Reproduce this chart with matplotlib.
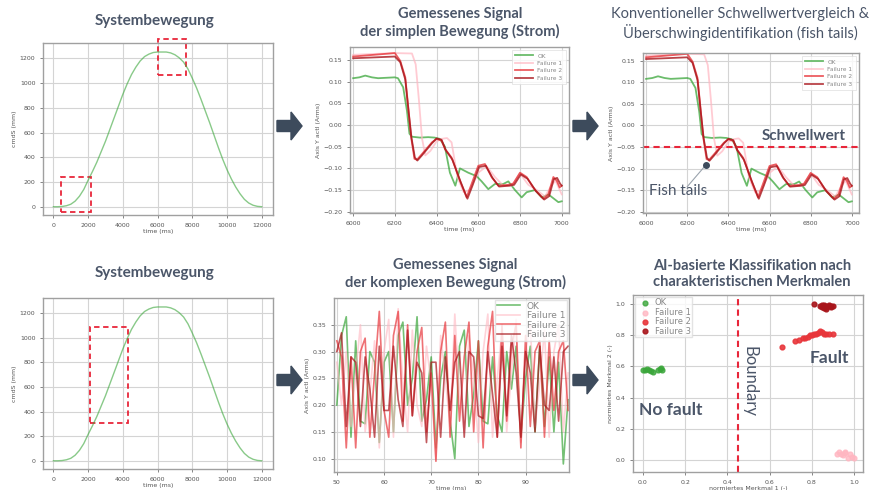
import matplotlib
matplotlib.use('Agg')
import matplotlib.pyplot as plt
from matplotlib.patches import FancyArrow, Rectangle

# --- data ---
# motion profile (position over time)
t_move = [0, 250, 500, 750, 1000, 1250, 1500, 1750, 2000, 2250, 2500, 2750, 3000, 3250, 3500,
          3750, 4000, 4250, 4500, 4750, 5000, 5250, 5500, 5750, 6000, 6250, 6500, 6750, 7000,
          7250, 7500, 7750, 8000, 8250, 8500, 8750, 9000, 9250, 9500, 9750, 10000, 10250,
          10500, 10750, 11000, 11250, 11500, 11750, 12000]
pos_move = [0, 0, 2, 8, 20, 45, 85, 140, 215, 285, 360, 445, 530, 625, 720,
            815, 910, 995, 1070, 1130, 1180, 1215, 1235, 1248, 1252, 1252, 1252, 1245, 1230,
            1205, 1170, 1115, 1040, 960, 870, 775, 680, 580, 480, 385, 300, 225,
            160, 105, 60, 30, 12, 3, 0]

# current signal of the simple motion
t_ok = [6000, 6030, 6058, 6090, 6120, 6160, 6200, 6215, 6240, 6258, 6270, 6282, 6320, 6360,
        6390, 6416, 6440, 6464, 6490, 6512, 6552, 6592, 6616, 6648, 6680, 6720, 6744, 6776,
        6808, 6832, 6872, 6904, 6936, 6968, 6984, 7000]
i_ok = [0.108, 0.110, 0.114, 0.110, 0.108, 0.109, 0.110, 0.108, 0.087, 0.033, -0.020, -0.027,
        -0.029, -0.028, -0.029, -0.032, -0.050, -0.110, -0.140, -0.100, -0.110, -0.118, -0.130,
        -0.148, -0.136, -0.136, -0.130, -0.150, -0.167, -0.155, -0.150, -0.167, -0.160, -0.172,
        -0.178, -0.176]

t_f1 = [6000, 6100, 6200, 6282, 6300, 6315, 6330, 6346, 6370, 6400, 6424, 6450, 6472, 6500,
        6530, 6560, 6600, 6640, 6680, 6720, 6760, 6800, 6840, 6880, 6920, 6950, 6970, 7000]
i_f1 = [0.162, 0.164, 0.166, 0.165, 0.140, 0.060, -0.030, -0.070, -0.060, -0.038, -0.032,
        -0.030, -0.040, -0.120, -0.155, -0.150, -0.110, -0.095, -0.120, -0.140, -0.140, -0.112,
        -0.138, -0.150, -0.165, -0.140, -0.128, -0.160]

t_f2 = [6000, 6100, 6200, 6226, 6250, 6266, 6278, 6294, 6306, 6330, 6378, 6400, 6424, 6440,
        6472, 6512, 6544, 6568, 6600, 6632, 6664, 6696, 6744, 6768, 6800, 6832, 6872, 6912,
        6936, 6960, 6976, 6990, 7000]
i_f2 = [0.158, 0.162, 0.166, 0.148, 0.110, 0.033, -0.028, -0.078, -0.080, -0.067, -0.040,
        -0.032, -0.036, -0.055, -0.075, -0.128, -0.167, -0.136, -0.094, -0.090, -0.120, -0.140,
        -0.138, -0.135, -0.110, -0.120, -0.150, -0.170, -0.160, -0.120, -0.128, -0.144, -0.140]

t_f3 = [6000, 6100, 6200, 6226, 6250, 6266, 6280, 6296, 6308, 6330, 6378, 6400, 6424, 6444,
        6476, 6516, 6548, 6572, 6604, 6636, 6668, 6700, 6748, 6772, 6804, 6836, 6876, 6916,
        6940, 6962, 6978, 6992, 7000]
i_f3 = [0.154, 0.156, 0.158, 0.145, 0.105, 0.030, -0.030, -0.075, -0.082, -0.070, -0.042,
        -0.031, -0.034, -0.058, -0.080, -0.132, -0.170, -0.140, -0.097, -0.094, -0.122, -0.142,
        -0.140, -0.138, -0.114, -0.124, -0.152, -0.172, -0.164, -0.125, -0.122, -0.135, -0.140]

threshold = -0.05

# current signal of the complex motion
t_cx = list(range(50, 100))
c_ok = [0.20, 0.33, 0.365, 0.14, 0.32, 0.17, 0.165, 0.30, 0.28, 0.13, 0.28, 0.30, 0.15, 0.33,
        0.355, 0.20, 0.25, 0.365, 0.17, 0.21, 0.29, 0.12, 0.25, 0.30, 0.17, 0.10, 0.31, 0.34,
        0.16, 0.22, 0.32, 0.17, 0.165, 0.29, 0.18, 0.15, 0.30, 0.23, 0.31, 0.14, 0.25, 0.31,
        0.15, 0.31, 0.16, 0.29, 0.15, 0.28, 0.09, 0.21]
c_f1 = [0.28, 0.20, 0.30, 0.16, 0.26, 0.35, 0.15, 0.22, 0.32, 0.12, 0.30, 0.36, 0.14, 0.38,
        0.24, 0.15, 0.34, 0.20, 0.16, 0.31, 0.24, 0.10, 0.33, 0.25, 0.16, 0.37, 0.22, 0.15,
        0.33, 0.25, 0.13, 0.30, 0.37, 0.14, 0.25, 0.34, 0.15, 0.26, 0.36, 0.13, 0.30, 0.35,
        0.16, 0.24, 0.34, 0.14, 0.30, 0.35, 0.15, 0.26]
c_f2 = [0.32, 0.29, 0.12, 0.29, 0.12, 0.30, 0.325, 0.14, 0.26, 0.375, 0.19, 0.14, 0.33, 0.375,
        0.17, 0.35, 0.18, 0.30, 0.345, 0.15, 0.26, 0.095, 0.30, 0.355, 0.14, 0.33, 0.17, 0.29,
        0.355, 0.15, 0.32, 0.12, 0.31, 0.375, 0.14, 0.35, 0.17, 0.31, 0.35, 0.12, 0.33, 0.16,
        0.30, 0.32, 0.14, 0.32, 0.19, 0.30, 0.32, 0.19]
c_f3 = [0.30, 0.335, 0.16, 0.29, 0.28, 0.16, 0.29, 0.23, 0.14, 0.31, 0.19, 0.19, 0.31, 0.21,
        0.16, 0.34, 0.18, 0.28, 0.26, 0.13, 0.28, 0.28, 0.14, 0.29, 0.19, 0.28, 0.30, 0.14,
        0.30, 0.29, 0.18, 0.175, 0.30, 0.22, 0.14, 0.31, 0.18, 0.33, 0.26, 0.14, 0.30, 0.26,
        0.15, 0.31, 0.20, 0.19, 0.29, 0.17, 0.30, 0.31]

# features for the classification
ok_x = [0.00, 0.01, 0.02, 0.03, 0.04, 0.05, 0.07, 0.08, 0.09, 0.085]
ok_y = [0.575, 0.58, 0.585, 0.575, 0.57, 0.565, 0.575, 0.585, 0.58, 0.59]
f1_x = [0.92, 0.93, 0.94, 0.95, 0.96, 0.97, 0.98, 0.99, 1.00, 0.96]
f1_y = [0.04, 0.05, 0.04, 0.03, 0.05, 0.01, 0.04, 0.02, 0.01, 0.045]
f2_x = [0.66, 0.72, 0.74, 0.76, 0.77, 0.78, 0.79, 0.80, 0.81, 0.82, 0.83, 0.84, 0.85, 0.86,
        0.87, 0.88, 0.90]
f2_y = [0.725, 0.765, 0.77, 0.78, 0.785, 0.79, 0.80, 0.80, 0.805, 0.81, 0.815, 0.825, 0.82,
        0.81, 0.81, 0.81, 0.81]
f3_x = [0.81, 0.84, 0.85, 0.86, 0.86, 0.87, 0.87, 0.88, 0.88, 0.89, 0.89, 0.90, 0.85, 0.86, 0.87]
f3_y = [1.00, 0.99, 0.98, 0.995, 0.975, 0.99, 0.98, 0.985, 0.995, 0.99, 0.98, 0.99, 0.995,
        0.985, 0.97]
boundary_x = 0.45

labels = ['OK', 'Failure 1', 'Failure 2', 'Failure 3']

# --- style ---
W, H = 877, 490
SLATE = '#4b5669'
C_OK = '#3aa63a'
C_F1 = '#ffb6c1'
C_F2 = '#e8353a'
C_F3 = '#a8141a'
RED_DASH = '#e8263a'
TITLE_FONT = ['Lato', 'DejaVu Sans']


def box(l, t, r, b):
    # pixel box -> figure fraction rect
    return [l / W, 1 - b / H, (r - l) / W, (b - t) / H]


def style(ax, xlabel, ylabel):
    ax.grid(True, color='#d4d4d4', linewidth=0.8)
    ax.set_axisbelow(True)
    for s in ax.spines.values():
        s.set_color('#a0a0a0')
        s.set_linewidth(1.0)
    ax.tick_params(labelsize=4.5, colors='#555555', length=2, width=0.5)
    ax.set_xlabel(xlabel, fontsize=4.5, color='#555555', labelpad=1)
    ax.set_ylabel(ylabel, fontsize=4.5, color='#555555', labelpad=2)


def title(x, y, txt, weight='bold', size=10.5):
    fig.text(x / W, 1 - y / H, txt, ha='center', va='center', fontsize=size,
             fontweight=weight, color=SLATE, family=TITLE_FONT, linespacing=1.2)


def arrow(x, y):
    fig.add_artist(FancyArrow(x / W, 1 - y / H, 25 / W, 0, width=11 / H,
                              head_width=28 / H, head_length=11 / W,
                              length_includes_head=True, color='#3d4b5c',
                              transform=fig.transFigure))


fig = plt.figure(figsize=(W / 100, H / 100), dpi=100)

# panel 1: motion
ax1 = fig.add_axes(box(43, 43, 273, 215))
ax1.plot(t_move, pos_move, color=C_OK, alpha=0.6, linewidth=1.0)
ax1.add_patch(Rectangle((460, -43), 1690, 286, fill=False, edgecolor=RED_DASH,
                        linestyle=(0, (3, 2)), linewidth=1.3))
ax1.add_patch(Rectangle((6000, 1067), 1650, 288, fill=False, edgecolor=RED_DASH,
                        linestyle=(0, (3, 2)), linewidth=1.3, clip_on=False))
ax1.set_xlim(-600, 12650)
ax1.set_ylim(-67, 1325)
ax1.set_xticks(range(0, 12001, 2000))
style(ax1, 'time (ms)', 'cmdS (mm)')


def signal(ax, legend_size):
    ax.plot(t_ok, i_ok, color=C_OK, alpha=0.75, linewidth=1.3, label=labels[0])
    ax.plot(t_f1, i_f1, color=C_F1, alpha=0.7, linewidth=1.3, label=labels[1])
    ax.plot(t_f2, i_f2, color=C_F2, alpha=0.8, linewidth=1.3, label=labels[2])
    ax.plot(t_f3, i_f3, color=C_F3, alpha=0.8, linewidth=1.3, label=labels[3])
    ax.set_xlim(5985, 7035)
    ax.set_xticks(range(6000, 7001, 200))
    ax.set_yticks([-0.20, -0.15, -0.10, -0.05, 0.00, 0.05, 0.10, 0.15])
    style(ax, 'time (ms)', 'Axis Y actl (Arms)')
    leg = ax.legend(loc='upper right', fontsize=legend_size, frameon=True, fancybox=False,
                    borderpad=0.6, labelspacing=0.4, handlelength=3)
    leg.get_frame().set_edgecolor('#dddddd')
    leg.get_frame().set_linewidth(0.6)
    for txt in leg.get_texts():
        txt.set_color('#888888')


# panel 2: simple signal
ax2 = fig.add_axes(box(350, 47, 569, 213))
signal(ax2, 4.2)
ax2.set_ylim(-0.203, 0.18)

# panel 3: threshold
ax3 = fig.add_axes(box(643, 53, 859, 213))
signal(ax3, 4.2)
ax3.set_ylim(-0.203, 0.168)
ax3.axhline(threshold, color=RED_DASH, linestyle=(0, (3, 2)), linewidth=1.5)
ax3.text(6766, -0.024, 'Schwellwert', fontsize=11, fontweight='bold', color=SLATE,
         family=TITLE_FONT, ha='center', va='center')
ax3.plot([6200, 6290], [-0.142, -0.092], color='#9aa3ad', linewidth=0.8)
ax3.plot([6290], [-0.092], 'o', color='#3d4b5c', markersize=4)
ax3.text(6156, -0.152, 'Fish tails', fontsize=11, color=SLATE, family=TITLE_FONT,
         ha='center', va='center')

# panel 4: motion again
ax4 = fig.add_axes(box(43, 298, 273, 469))
ax4.plot(t_move, pos_move, color=C_OK, alpha=0.6, linewidth=1.0)
ax4.add_patch(Rectangle((2096, 311), 2174, 778, fill=False, edgecolor=RED_DASH,
                        linestyle=(0, (3, 2)), linewidth=1.3))
ax4.set_xlim(-600, 12650)
ax4.set_ylim(-67, 1325)
ax4.set_xticks(range(0, 12001, 2000))
style(ax4, 'time (ms)', 'cmdS (mm)')

# panel 5: complex signal
ax5 = fig.add_axes(box(334, 298, 569, 472))
ax5.plot(t_cx, c_ok, color=C_OK, alpha=0.7, linewidth=1.2, label=labels[0])
ax5.plot(t_cx, c_f1, color=C_F1, alpha=0.6, linewidth=1.2, label=labels[1])
ax5.plot(t_cx, c_f2, color=C_F2, alpha=0.7, linewidth=1.2, label=labels[2])
ax5.plot(t_cx, c_f3, color=C_F3, alpha=0.7, linewidth=1.2, label=labels[3])
ax5.set_xlim(49.4, 99.2)
ax5.set_ylim(0.075, 0.40)
ax5.set_xticks([50, 60, 70, 80, 90])
ax5.set_yticks([0.10, 0.15, 0.20, 0.25, 0.30, 0.35])
style(ax5, 'time (ms)', 'Axis Y actl (Arms)')
leg5 = ax5.legend(loc='upper right', fontsize=6.5, frameon=True, fancybox=False,
                  borderpad=0.2, labelspacing=0.05, handlelength=2.5, borderaxespad=0.2)
leg5.get_frame().set_edgecolor('#dddddd')
leg5.get_frame().set_alpha(0.8)
for txt in leg5.get_texts():
    txt.set_color('#888888')

# panel 6: classification
ax6 = fig.add_axes(box(633, 295, 863, 472))
ax6.scatter(ok_x, ok_y, s=12, color=C_OK, alpha=0.8, label=labels[0], zorder=3)
ax6.scatter(f1_x, f1_y, s=12, color=C_F1, alpha=0.8, label=labels[1], zorder=3)
ax6.scatter(f2_x, f2_y, s=12, color=C_F2, alpha=0.9, label=labels[2], zorder=3)
ax6.scatter(f3_x, f3_y, s=12, color=C_F3, alpha=0.9, label=labels[3], zorder=3)
ax6.axvline(boundary_x, color=RED_DASH, linestyle=(0, (3, 2)), linewidth=1.5)
ax6.set_xlim(-0.047, 1.043)
ax6.set_ylim(-0.077, 1.058)
style(ax6, 'normiertes Merkmal 1 (-)', 'normiertes Merkmal 2 (-)')
ax6.text(0.507, 0.506, 'Boundary', rotation=270, fontsize=12, color=SLATE,
         family=TITLE_FONT, ha='center', va='center')
ax6.text(0.886, 0.654, 'Fault', fontsize=12.5, fontweight='bold', color=SLATE,
         family=TITLE_FONT, ha='center', va='center')
ax6.text(0.133, 0.32, 'No fault', fontsize=12.5, fontweight='bold', color=SLATE,
         family=TITLE_FONT, ha='center', va='center')
leg6 = ax6.legend(loc='upper left', fontsize=6, frameon=True, fancybox=False,
                  borderpad=0.2, labelspacing=0.05, handletextpad=0.2, borderaxespad=0.2)
leg6.get_frame().set_edgecolor('#dddddd')
for txt in leg6.get_texts():
    txt.set_color('#888888')

# titles
title(155, 21, 'Systembewegung', size=11)
title(460, 23, 'Gemessenes Signal\nder simplen Bewegung (Strom)')
title(740, 24, 'Konventioneller Schwellwertvergleich &\nÜberschwingidentifikation (fish tails)',
      weight='normal')
title(155, 273, 'Systembewegung', size=11)
title(455, 274, 'Gemessenes Signal\nder komplexen Bewegung (Strom)')
title(752, 274, 'AI-basierte Klassifikation nach\ncharakteristischen Merkmalen')

# arrows between panels
arrow(277, 126)
arrow(573, 126)
arrow(277, 380)
arrow(573, 380)

fig.savefig('out.png', dpi=100)
